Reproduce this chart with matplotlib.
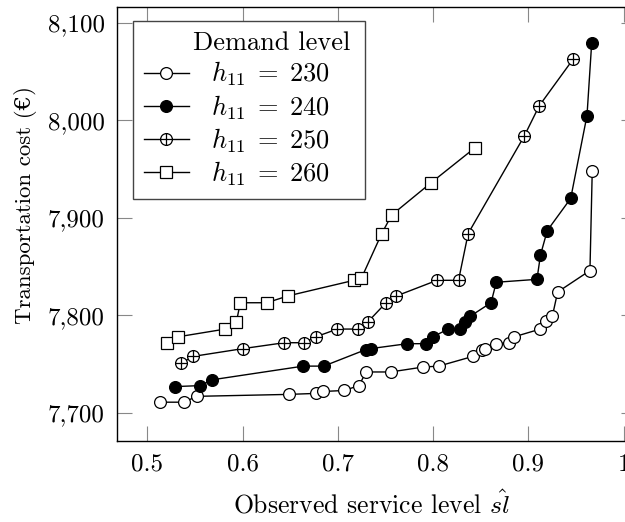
import matplotlib
matplotlib.use("Agg")
import matplotlib.pyplot as plt
from matplotlib.path import Path
from matplotlib.ticker import FuncFormatter
import numpy as np

plt.rcParams["font.family"] = ["cmr10", "DejaVu Serif"]
plt.rcParams["mathtext.fontset"] = "cm"
plt.rcParams["axes.formatter.use_mathtext"] = True

# observed service level / transportation cost per demand level
sl_230 = [0.5133, 0.5385, 0.5518, 0.6484, 0.6767, 0.6847, 0.7064, 0.7222, 0.7295,
          0.7554, 0.7890, 0.8058, 0.8418, 0.8512, 0.8540, 0.8659, 0.8792, 0.8848,
          0.9124, 0.9187, 0.9250, 0.9306, 0.9645, 0.9669]
cost_230 = [7711, 7711, 7717, 7719, 7720, 7722, 7723, 7728, 7742,
            7742, 7747, 7748, 7758, 7765, 7766, 7771, 7772, 7778,
            7786, 7794, 7799, 7824, 7846, 7948]

sl_240 = [0.5291, 0.5553, 0.5682, 0.6637, 0.6851, 0.7295, 0.7347, 0.7728, 0.7921,
          0.7995, 0.8158, 0.8281, 0.8339, 0.8386, 0.8607, 0.8662, 0.9089, 0.9126,
          0.9197, 0.9443, 0.9614, 0.9663]
cost_240 = [7727, 7728, 7734, 7748, 7748, 7765, 7766, 7771, 7771,
            7778, 7786, 7786, 7793, 7799, 7813, 7834, 7837, 7862,
            7887, 7920, 8005, 8079]

sl_250 = [0.5354, 0.5483, 0.6007, 0.6438, 0.6647, 0.6767, 0.6994, 0.7216, 0.7311,
          0.7505, 0.7615, 0.8040, 0.8266, 0.8367, 0.8956, 0.9113, 0.9470]
cost_250 = [7751, 7758, 7766, 7772, 7772, 7778, 7786, 7786, 7793,
            7813, 7820, 7836, 7836, 7884, 7984, 8015, 8063]

sl_260 = [0.5205, 0.5319, 0.5818, 0.5934, 0.5976, 0.6253, 0.6476, 0.7169, 0.7246,
          0.7460, 0.7565, 0.7977, 0.8439]
cost_260 = [7772, 7778, 7786, 7793, 7813, 7813, 7820, 7836, 7838,
            7884, 7903, 7936, 7972]

demand = ["230", "240", "250", "260"]
x_ticks = [0.5, 0.6, 0.7, 0.8, 0.9, 1.0]
y_ticks = [7700, 7800, 7900, 8000, 8100]

# leading space keeps the entries under the (wider) title, pgfplots-style
labels = [r"$\hspace{0.95}h_{11}\;=\;%s$" % d for d in demand]

# circle with a cross inside (pgfplots "oplus")
circ = Path.unit_circle()
oplus = Path(
    np.concatenate([circ.vertices, [[-1, 0], [1, 0], [0, -1], [0, 1]]]),
    np.concatenate([circ.codes, [Path.MOVETO, Path.LINETO, Path.MOVETO, Path.LINETO]]),
)

fig = plt.figure(figsize=(6.25, 5.22), dpi=100)
ax = fig.add_axes([0.1875, 0.1548, 0.8293, 0.8312])

common = dict(color="black", lw=1.0, markeredgewidth=0.9, markeredgecolor="black")
ax.plot(sl_230, cost_230, marker="o", ms=8.5, mfc="white", label=labels[0], **common)
ax.plot(sl_240, cost_240, marker="o", ms=8.5, mfc="black", label=labels[1], **common)
ax.plot(sl_250, cost_250, marker=oplus, ms=8.5, mfc="white", label=labels[2], **common)
ax.plot(sl_260, cost_260, marker="s", ms=8, mfc="white", label=labels[3], **common)

ax.set_xlim(0.4684, 1.0123)
ax.set_ylim(7671, 8116)
ax.set_xticks(x_ticks)
ax.set_yticks(y_ticks)
ax.xaxis.set_major_formatter(FuncFormatter(lambda v, p: "1" if v == 1 else f"{v:.1f}"))
ax.yaxis.set_major_formatter(FuncFormatter(lambda v, p: f"{v:,.0f}"))
ax.tick_params(direction="in", length=11, width=0.8, color="#888888",
               top=True, right=True, labelsize=18, pad=9)
for s in ax.spines.values():
    s.set_linewidth(1.0)

ax.set_xlabel(r"Observed service level $\hat{sl}$", fontsize=18.5, labelpad=10)
ax.set_ylabel("Transportation cost (€)", fontsize=16.5, labelpad=8)
ax.xaxis.label.set_x(0.4906)
ax.yaxis.label.set_y(0.545)

leg = ax.legend(loc="upper left", bbox_to_anchor=(0.0309, 0.969), borderaxespad=0,
                title="Demand level", fontsize=19, title_fontsize=19,
                frameon=True, fancybox=False, edgecolor="#444444", framealpha=1,
                handlelength=1.7, handletextpad=0.0, labelspacing=0.18,
                alignment="right", borderpad=0.4)
leg.get_frame().set_linewidth(1.0)
# title sits a bit right of the entries; widen the frame on the right to suit
leg.get_title().set_x(21)


def wide_right(x0, y0, width, height, mutation_size):
    x1 = x0 + width + 25
    y1 = y0 + height
    return Path([(x0, y0), (x1, y0), (x1, y1), (x0, y1), (x0, y0)], closed=True)


leg.get_frame().set_boxstyle(wide_right)

fig.savefig("out.png", dpi=100)
